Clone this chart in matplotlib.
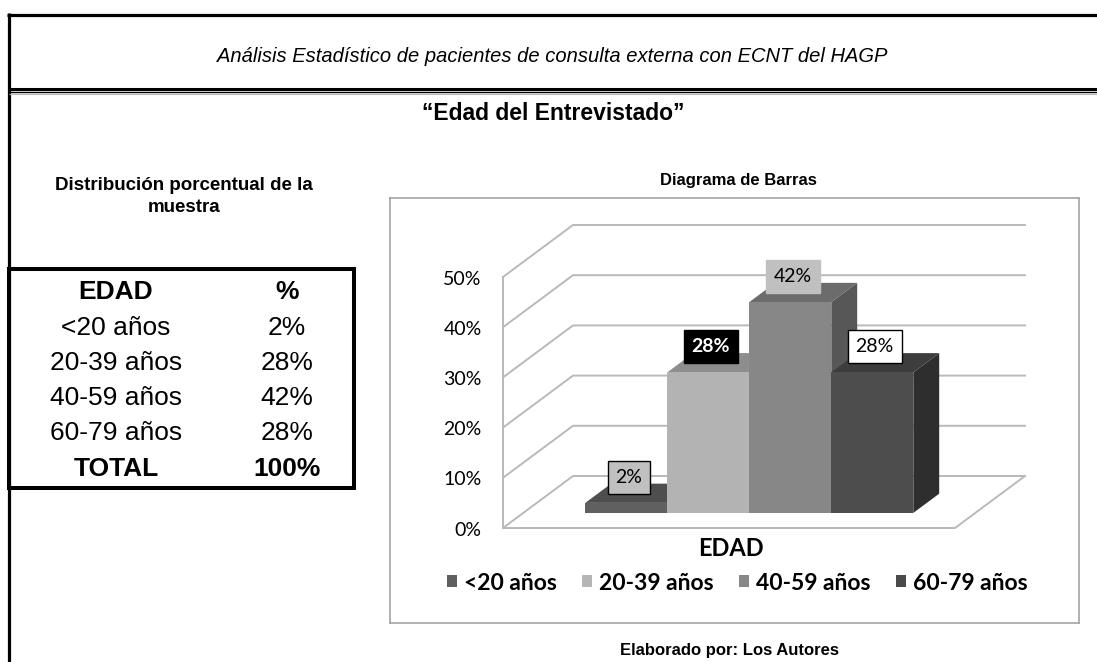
import matplotlib.pyplot as plt
from matplotlib.patches import Polygon, Patch, Rectangle

# datos de la tabla / grafico
categorias = ['<20 años', '20-39 años', '40-59 años', '60-79 años']
porcentajes = [2, 28, 42, 28]
total = 100
marcas_y = [0, 10, 20, 30, 40, 50]

# colores de cada serie (frente, arriba, lado)
col_frente = ['#606060', '#b3b3b3', '#878787', '#4d4d4d']
col_arriba = ['#4e4e4e', '#8d8d8d', '#6c6c6c', '#3d3d3d']
col_lado = ['#3f3f3f', '#9a9a9a', '#575757', '#2e2e2e']
col_leyenda = ['#5f5f5f', '#b5b5b5', '#888888', '#4a4a4a']
etiqueta_fondo = ['#c0c0c0', 'black', '#c0c0c0', 'white']
etiqueta_borde = ['black', 'black', '#c0c0c0', 'black']
etiqueta_texto = ['black', 'white', 'black', 'black']
etiqueta_peso = ['normal', 'bold', 'normal', 'normal']

ANCHO, ALTO = 1097, 662
fig = plt.figure(figsize=(ANCHO / 100, ALTO / 100), dpi=100)

# capa de fondo en pixeles para marcos y textos de la hoja
bg = fig.add_axes([0, 0, 1, 1])
bg.set_xlim(0, ANCHO)
bg.set_ylim(ALTO, 0)
bg.axis('off')

bg.plot([7, ANCHO], [14.5, 14.5], color='black', lw=2.3, solid_capstyle='butt')
bg.plot([8.5, 8.5], [13, ALTO], color='black', lw=2.3, solid_capstyle='butt')
bg.plot([8.5, ANCHO], [88.5, 88.5], color='black', lw=2.2, solid_capstyle='butt')
bg.plot([8.5, ANCHO], [92.3, 92.3], color='black', lw=1.0, solid_capstyle='butt')
bg.plot([8.5, ANCHO], [93.5, 93.5], color='#bbbbbb', lw=0.8, solid_capstyle='butt')

bg.text(552, 57, 'Análisis Estadístico de pacientes de consulta externa con ECNT del HAGP',
        ha='center', va='center', fontsize=14.5, style='italic',
        family=['Liberation Sans Narrow', 'Liberation Sans'])
bg.text(553, 114, '“Edad del Entrevistado”', ha='center', va='center',
        fontsize=16.5, weight='bold', family=['Liberation Sans Narrow', 'Liberation Sans'])
bg.text(184, 186, 'Distribución porcentual de la', ha='center', va='center',
        fontsize=13.5, weight='bold', family='Liberation Sans')
bg.text(184, 208, 'muestra', ha='center', va='center',
        fontsize=13.5, weight='bold', family='Liberation Sans')

# tabla
bg.add_patch(Rectangle((8.5, 268.5), 345, 219.5, fill=False, lw=2.9, ec='black'))
filas_y = [292, 328, 363, 398, 433, 469]
fs_tabla = 19
bg.text(116, filas_y[0], 'EDAD', ha='center', va='center', fontsize=fs_tabla,
        weight='bold', family='Liberation Sans')
bg.text(287, filas_y[0], '%', ha='center', va='center', fontsize=fs_tabla,
        weight='bold', family='Liberation Sans')
for i, (c, p) in enumerate(zip(categorias, porcentajes)):
    bg.text(116, filas_y[i + 1], c, ha='center', va='center', fontsize=fs_tabla,
            family='Liberation Sans')
    bg.text(287, filas_y[i + 1], f'{p}%', ha='center', va='center', fontsize=fs_tabla,
            family='Liberation Sans')
bg.text(116, filas_y[5], 'TOTAL', ha='center', va='center', fontsize=fs_tabla,
        weight='bold', family='Liberation Sans')
bg.text(287, filas_y[5], f'{total}%', ha='center', va='center', fontsize=fs_tabla,
        weight='bold', family='Liberation Sans')

bg.text(738, 180, 'Diagrama de Barras', ha='center', va='center',
        fontsize=12, weight='bold', family='Liberation Sans')
bg.text(730, 650, 'Elaborado por: Los Autores', ha='center', va='center',
        fontsize=12, weight='bold', family=['Liberation Sans Narrow', 'Liberation Sans'])

# area del grafico (caja gris)
cx0, cx1, cy0, cy1 = 390, 1079, 198, 623
ax = fig.add_axes([cx0 / ANCHO, 1 - cy1 / ALTO, (cx1 - cx0) / ANCHO, (cy1 - cy0) / ALTO])
PX_X, PX_Y = 82.0, 5.02      # pixeles por unidad de barra y por 1%
OX, OY = 503, 528            # esquina frontal izquierda del piso
ax.set_xlim((cx0 - OX) / PX_X, (cx1 - OX) / PX_X)
ax.set_ylim((OY - cy1) / PX_Y, (OY - cy0) / PX_Y)
ax.set_xticks([])
ax.set_yticks([])
for s in ax.spines.values():
    s.set_color('#a3a3a3')
    s.set_linewidth(1.2)

W = 452 / PX_X               # ancho del piso
DX, DY = 70 / PX_X, 52 / PX_Y  # profundidad
gris = '#b9b9b9'
ymax = marcas_y[-1]

# paredes y piso
for v in marcas_y:
    ax.plot([0, DX, W + DX], [v, v + DY, v + DY], color=gris, lw=1.4, zorder=1)
ax.plot([0, 0], [0, ymax], color=gris, lw=1.4, zorder=1)
ax.plot([0, W, W + DX], [0, 0, DY], color=gris, lw=1.4, zorder=1)

for v in marcas_y:
    ax.text(-0.26, v - 0.4, f'{v}%', ha='right', va='center', fontsize=14, family='Lato')

# barras 3d
fr, bk = 0.29, 0.66
hueco = (W - len(porcentajes)) / 2
for i, v in enumerate(porcentajes):
    xl = hueco + i + fr * DX
    yb = fr * DY
    ddx, ddy = (bk - fr) * DX, (bk - fr) * DY
    lado = [(xl + 1, yb), (xl + 1 + ddx, yb + ddy), (xl + 1 + ddx, yb + ddy + v), (xl + 1, yb + v)]
    arriba = [(xl, yb + v), (xl + 1, yb + v), (xl + 1 + ddx, yb + ddy + v), (xl + ddx, yb + ddy + v)]
    frente = [(xl, yb), (xl + 1, yb), (xl + 1, yb + v), (xl, yb + v)]
    z = 3 + i
    ax.add_patch(Polygon(lado, closed=True, fc=col_lado[i], ec='none', zorder=z))
    ax.add_patch(Polygon(arriba, closed=True, fc=col_arriba[i], ec='none', zorder=z))
    ax.add_patch(Polygon(frente, closed=True, fc=col_frente[i], ec='none', zorder=z))
    ax.text(xl + 0.53, yb + v + 5.1, f'{v}%', ha='center', va='center', fontsize=14,
            family='Lato', color=etiqueta_texto[i], weight=etiqueta_peso[i], zorder=10,
            bbox=dict(boxstyle='square,pad=0.4', fc=etiqueta_fondo[i],
                      ec=etiqueta_borde[i], lw=1.0))

ax.text((731 - OX) / PX_X, (OY - 548) / PX_Y, 'EDAD', ha='center', va='center',
        fontsize=17, weight='bold', family='Lato')

manejadores = [Patch(facecolor=c, edgecolor='none') for c in col_leyenda]
ax.legend(manejadores, categorias, ncol=4, loc='center',
          bbox_to_anchor=((737 - OX) / PX_X, (OY - 583) / PX_Y),
          bbox_transform=ax.transData, frameon=False, handlelength=0.45,
          handleheight=0.45, handletextpad=0.3, columnspacing=1.1,
          prop={'family': 'Lato', 'weight': 'bold', 'size': 16.5})

fig.savefig('out.png', dpi=100)
